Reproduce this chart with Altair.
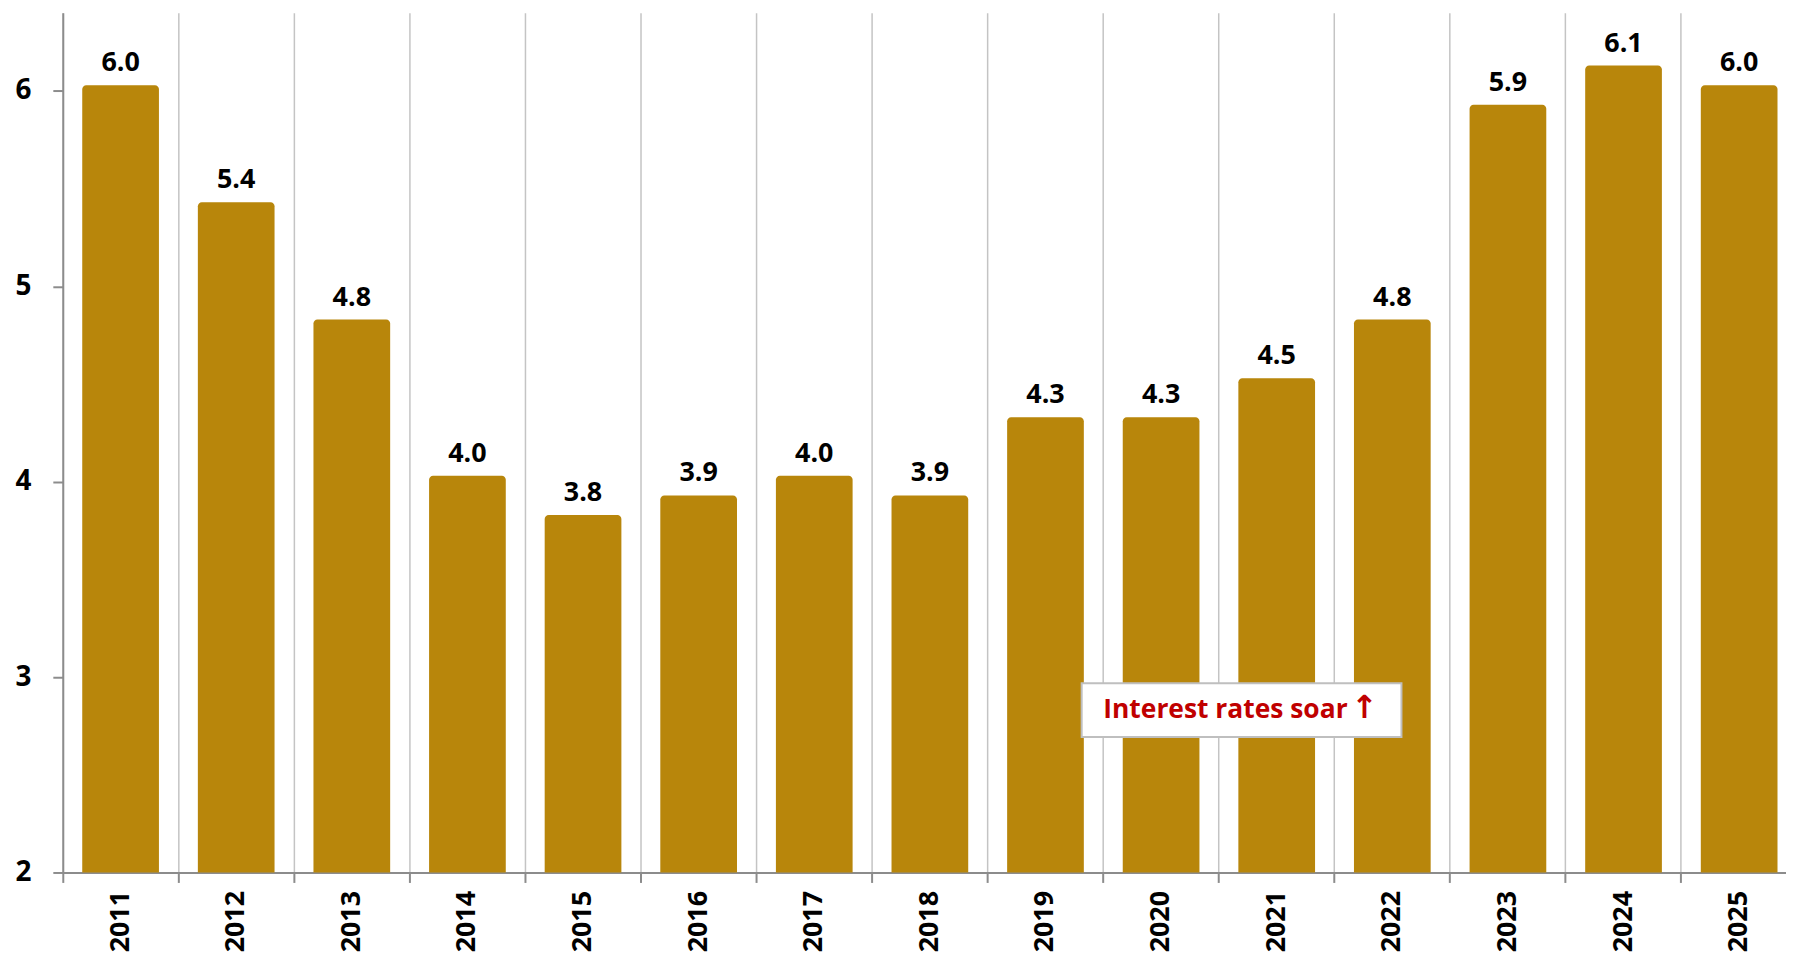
import altair as alt
import pandas as pd

years = ["2011", "2012", "2013", "2014", "2015", "2016", "2017", "2018",
         "2019", "2020", "2021", "2022", "2023", "2024", "2025"]
values = [6.03, 5.43, 4.83, 4.03, 3.83, 3.93, 4.03, 3.93,
          4.33, 4.33, 4.53, 4.83, 5.93, 6.13, 6.03]
y_ticks = [2, 3, 4, 5, 6]
note_text = "Interest rates soar"
note_arrow = "\u2191"

df = pd.DataFrame({"year": years, "value": values})

FONT = "Open Sans"
BAR = "#B8860B"

x_scale = alt.Scale(domain=years, paddingInner=0, paddingOuter=0)
y_scale = alt.Scale(domain=[2, 6.4], nice=False, zero=False)

base = alt.Chart(df)

bars = base.mark_bar(color=BAR, width=77, cornerRadiusTopLeft=4, cornerRadiusTopRight=4).encode(
    x=alt.X("year:N", scale=x_scale, sort=years, title=None),
    y=alt.Y("value:Q", scale=y_scale, title=None,
            axis=alt.Axis(values=y_ticks, format="d")),
    y2=alt.Y2(datum=2),
)

labels = base.mark_text(font=FONT, fontSize=27, fontWeight="bold", color="black",
                        baseline="alphabetic", dy=-14).encode(
    x=alt.X("year:N", scale=x_scale, sort=years, title=None),
    y=alt.Y("value:Q", scale=y_scale, title=None),
    text=alt.Text("value:Q", format=".1f"),
)

note_df = pd.DataFrame({"t": [note_text], "a": [note_arrow],
                        "x0": ["2019"], "x1": ["2022"],
                        "y0": [2.968], "y1": [2.693], "yc": [2.83], "ya": [2.84]})

note_box = alt.Chart(note_df).mark_rect(
    fill="white", stroke="#bfbfbf", strokeWidth=2).encode(
    x=alt.X("x0:N", bandPosition=0.813, scale=x_scale, title=None),
    x2=alt.X2("x1:N", bandPosition=0.579),
    y=alt.Y("y0:Q", scale=y_scale, title=None),
    y2=alt.Y2("y1:Q"),
)

note = alt.Chart(note_df).mark_text(
    font=FONT, fontSize=26.5, fontWeight="bold", color="#C00000",
    align="left", baseline="middle").encode(
    x=alt.X("x0:N", bandPosition=1.0, scale=x_scale, title=None),
    y=alt.Y("yc:Q", scale=y_scale, title=None),
    text="t:N",
)

arrow = alt.Chart(note_df).mark_text(
    font="DejaVu Sans", fontSize=32, fontWeight="bold", color="#C00000",
    align="center", baseline="middle").encode(
    x=alt.X("x1:N", bandPosition=0.26, scale=x_scale, title=None),
    y=alt.Y("ya:Q", scale=y_scale, title=None),
    text="a:N",
)

chart = alt.layer(bars, labels, note_box, note, arrow).properties(
    width=1741, height=863,
    autosize=alt.AutoSizeParams(type="none"),
    padding={"left": 55, "top": 3, "right": -11, "bottom": 85},
    background="white",
    view=alt.ViewBackground(stroke="transparent", strokeWidth=0, strokeOpacity=0),
).configure_view(
    stroke="transparent", strokeWidth=0, strokeOpacity=0
).configure_axisX(
    labelAngle=270, labelFont=FONT, labelFontSize=27, labelFontWeight="bold",
    labelColor="black", labelPadding=8, bandPosition=0, grid=True,
    gridColor="#c4c4c4", gridWidth=1.5, ticks=True, tickSize=10,
    tickColor="#8c8c8c", tickWidth=2, domainColor="#8c8c8c", domainWidth=2,
).configure_axisY(
    grid=False, labelFont=FONT, labelFontSize=28, labelFontWeight="bold",
    labelColor="black", labelPadding=22, tickSize=10, tickColor="#8c8c8c",
    tickWidth=2, domainColor="#8c8c8c", domainWidth=2,
)

chart.save("out.html", embed_options={"renderer": "svg", "actions": False})
